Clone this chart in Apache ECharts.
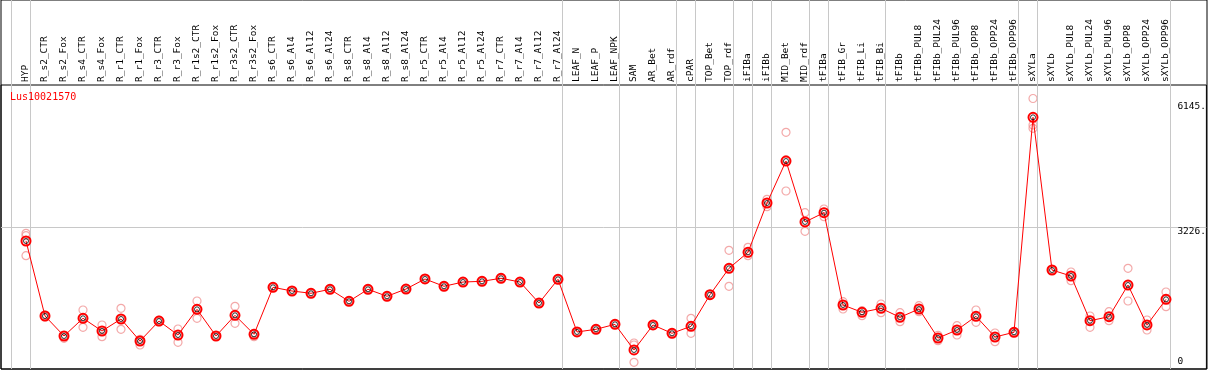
<!DOCTYPE html>
<html>
<head>
<meta charset="utf-8">
<script src="https://cdn.jsdelivr.net/npm/echarts@6/dist/echarts.min.js"></script>
<style>
html,body{margin:0;padding:0;background:#fff;}
#main{width:1209px;height:370px;}
</style>
</head>
<body>
<div id="main"></div>
<script>
/*样本名称*/
var categories = ['HYP','R_s2_CTR','R_s2_Fox','R_s4_CTR','R_s4_Fox','R_r1_CTR','R_r1_Fox','R_r3_CTR','R_r3_Fox',
	'R_r1s2_CTR','R_r1s2_Fox','R_r3s2_CTR','R_r3s2_Fox','R_s6_CTR','R_s6_Al4','R_s6_Al12','R_s6_Al24',
	'R_s8_CTR','R_s8_Al4','R_s8_Al12','R_s8_Al24','R_r5_CTR','R_r5_Al4','R_r5_Al12','R_r5_Al24',
	'R_r7_CTR','R_r7_Al4','R_r7_Al12','R_r7_Al24','LEAF_N','LEAF_P','LEAF_NPK','SAM','AR_Bet','AR_rdf',
	'cPAR','TOP_Bet','TOP_rdf','iFIBa','iFIBb','MID_Bet','MID_rdf','tFIBa','tFIB_Gr','tFIB_Li','tFIB_Bi',
	'tFIBb','tFIBb_PUL8','tFIBb_PUL24','tFIBb_PUL96','tFIBb_OPP8','tFIBb_OPP24','tFIBb_OPP96',
	'sXYLa','sXYLb','sXYLb_PUL8','sXYLb_PUL24','sXYLb_PUL96','sXYLb_OPP8','sXYLb_OPP24','sXYLb_OPP96'];

/*平均值*/
var meanValues = [2908,1204,750,1152,863,1136,636,1090,772,1356,750,1220,788,1856,1772,1720,1811,
	1538,1811,1652,1817,2045,1879,1976,1992,2061,1976,1499,2038,841,902,1015,432,1000,811,
	970,1688,2288,2651,3771,4725,3340,3551,1454,1288,1379,1175,1363,704,886,1197,727,834,
	5718,2249,2113,1097,1188,1908,1000,1583];

/*重复样本*/
var rep1 = [3083,1227,760,1340,1000,1379,675,1113,909,1545,761,1424,811,1866,1780,1730,1820,
	1548,1820,1660,1825,2055,1888,1985,2000,2070,1985,1508,2046,850,910,1024,591,1010,820,
	1152,1698,2697,2765,3855,5377,3551,3635,1529,1324,1477,1279,1438,766,984,1340,818,842,
	6145,2258,2204,1204,1302,2288,1113,1749];
var rep2 = [3028,1204,750,1159,863,1136,636,1090,772,1363,750,1220,795,1856,1772,1720,1811,
	1538,1811,1652,1817,2045,1879,1976,1992,2061,1976,1499,2038,841,902,1015,545,1000,811,
	970,1688,2288,2635,3771,4755,3340,3567,1454,1290,1379,1175,1363,704,886,1197,727,834,
	5543,2249,2113,1097,1188,1908,1000,1583];
var rep3 = [2574,1181,697,947,734,902,545,1068,607,1152,738,1038,734,1846,1764,1710,1802,
	1528,1802,1644,1809,2035,1870,1967,1984,2052,1967,1490,2030,832,894,1006,152,990,802,
	811,1678,1879,2574,3687,4044,3128,3460,1363,1211,1279,1075,1302,643,772,1061,620,826,
	5468,2240,2006,947,1097,1545,886,1415];

/*纵轴刻度*/
var yMax = 6452;
var yMidTick = 3226;
var yTopLabel = 6145;

/*分组分隔线（在这些样本之后）*/
var separatorAfter = [-1,0,28,31,34,35,37,38,39,41,42,45,52,53,60];

var font = 'DejaVu Sans Mono';
var gridColor = '#c8c8c8';

var myChart = echarts.init(document.getElementById('main'));

var step = 19;
var plotLeft = 26 - step / 2;
var plotRight = 1209 - (plotLeft + categories.length * step);
var xMin = (1 - 26) / step;
var xMax = xMin + 1206 / step;

var repSeries = [rep1, rep2, rep3].map(function(arr){
	return {
		type: 'scatter',
		xAxisIndex: 2,
		yAxisIndex: 4,
		data: arr,
		symbol: 'circle',
		symbolSize: 8,
		silent: true,
		z: 3,
		itemStyle: {color: 'rgba(255,255,255,0)', borderColor: '#f09494', borderWidth: 1.2}
	};
});

var option = {
	animation: false,
	title: {
		text: 'Lus10021570',
		left: 10,
		top: 92,
		padding: 0,
		textStyle: {color: '#ff0000', fontSize: 10, fontFamily: font, fontWeight: 'normal'}
	},
	grid: [
		{left: 1, right: 2, top: 0, bottom: 1, show: true, borderColor: '#000', borderWidth: 1, backgroundColor: '#fff'},
		{left: 1, right: 2, top: 85, bottom: 1, show: true, borderColor: '#000', borderWidth: 1},
		{left: plotLeft, right: plotRight, top: 85, bottom: 1}
	],
	xAxis: [
		{gridIndex: 0, type: 'value', min: xMin, max: xMax, show: false},
		{gridIndex: 1, type: 'value', min: 0, max: 1, show: false},
		{
			gridIndex: 2,
			type: 'category',
			position: 'top',
			data: categories,
			boundaryGap: true,
			axisLine: {show: false},
			axisTick: {show: false},
			splitLine: {show: false},
			axisLabel: {interval: 0, rotate: 90, margin: 3, fontSize: 9.5, fontFamily: font, color: '#000'}
		}
	],
	yAxis: [
		{gridIndex: 0, type: 'value', min: 0, max: 1, show: false},
		{
			gridIndex: 1, type: 'value', position: 'right', min: 0, max: yMax, interval: yMidTick,
			axisLine: {show: false}, axisTick: {show: false},
			splitLine: {show: true, showMinLine: false, showMaxLine: false, lineStyle: {color: gridColor, width: 1}},
			axisLabel: {
				inside: true, align: 'left', verticalAlign: 'top', margin: 29,
				fontSize: 9.5, fontFamily: font, color: '#000',
				formatter: function(v){ return v === yMidTick ? yMidTick + '.' : ''; }
			}
		},
		{
			gridIndex: 1, type: 'value', position: 'right', min: 0, max: yMax, interval: yTopLabel,
			axisLine: {show: false}, axisTick: {show: false}, splitLine: {show: false},
			axisLabel: {
				inside: true, align: 'left', verticalAlign: 'top', margin: 29, padding: [3, 0, 0, 0],
				fontSize: 9.5, fontFamily: font, color: '#000',
				formatter: function(v){ return v === yTopLabel ? yTopLabel + '.' : ''; }
			}
		},
		{
			gridIndex: 1, type: 'value', position: 'right', min: 0, max: yMax, interval: yMax,
			axisLine: {show: false}, axisTick: {show: false}, splitLine: {show: false},
			axisLabel: {
				inside: true, align: 'left', verticalAlign: 'bottom', margin: 29, padding: [0, 0, 2, 0],
				fontSize: 9.5, fontFamily: font, color: '#000',
				formatter: function(v){ return v === 0 ? '0' : ''; }
			}
		},
		{gridIndex: 2, type: 'value', min: 0, max: yMax, show: false}
	],
	series: [
		/*分隔线*/
		{
			type: 'line',
			xAxisIndex: 0,
			yAxisIndex: 0,
			data: [],
			z: 1,
			markLine: {
				silent: true,
				symbol: 'none',
				animation: false,
				label: {show: false},
				lineStyle: {color: gridColor, type: 'solid', width: 1},
				data: separatorAfter.map(function(k){ return {xAxis: k + 4.5 / step}; })
			}
		}
	].concat(repSeries).concat([
		/*平均值折线*/
		{
			type: 'line',
			xAxisIndex: 2,
			yAxisIndex: 4,
			data: meanValues,
			symbol: 'circle',
			symbolSize: 9,
			showAllSymbol: true,
			silent: true,
			z: 5,
			lineStyle: {color: '#ff0000', width: 1},
			itemStyle: {color: 'rgba(255,255,255,0)', borderColor: '#ff0000', borderWidth: 2}
		},
		{
			type: 'scatter',
			xAxisIndex: 2,
			yAxisIndex: 4,
			data: meanValues,
			symbol: 'circle',
			symbolSize: 5,
			silent: true,
			z: 6,
			itemStyle: {color: 'rgba(255,255,255,0)', borderColor: '#000', borderWidth: 1}
		}
	])
};
myChart.setOption(option);
</script>
</body>
</html>
